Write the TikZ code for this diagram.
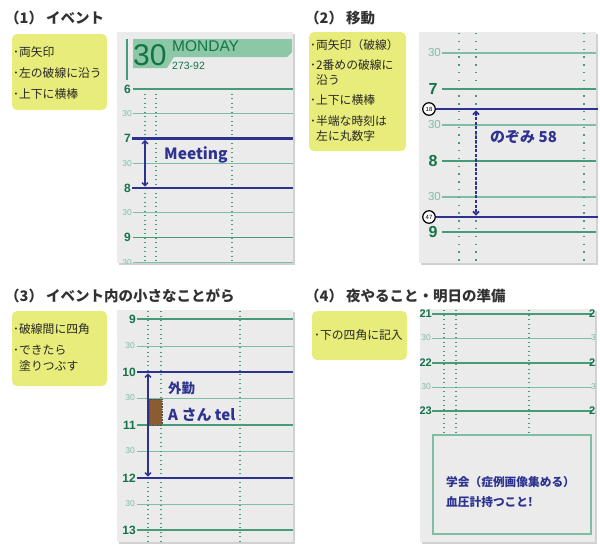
\documentclass[tikz,border=0pt]{standalone}
\usepackage{fontspec}
\setmainfont{Noto Sans CJK JP}
\newfontfamily\numfont{Liberation Sans}
\usetikzlibrary{arrows.meta,positioning}
\definecolor{memocolor}{RGB}{232,236,122}
\definecolor{pagecolor}{RGB}{235,235,235}
\definecolor{rulecolor}{RGB}{70,155,120}
\definecolor{halfcolor}{RGB}{125,190,165}
\definecolor{hourcolor}{RGB}{18,115,72}
\definecolor{bandcolor}{RGB}{140,200,166}
\definecolor{inkcolor}{RGB}{45,50,145}
\definecolor{titlecolor}{RGB}{50,50,50}
\definecolor{boxcolor}{RGB}{140,92,48}
\tikzset{
  panel title/.style={anchor=west,text=titlecolor,font=\fontsize{14.5}{16}\selectfont\bfseries},
  memo/.style={fill=memocolor,rounded corners=5pt},
  memo line/.style={anchor=west,text=black!85,font=\fontsize{11.8}{13}\selectfont},
  page/.style={fill=pagecolor},
  page shadow/.style={fill=black!18},
  hour rule/.style={draw=rulecolor,line width=1.2pt},
  half rule/.style={draw=halfcolor,line width=1pt},
  hour num/.style={text=hourcolor,font=\numfont\bfseries\fontsize{12}{12}\selectfont},
  half num/.style={text=halfcolor,font=\numfont\fontsize{8.5}{9}\selectfont},
  dots/.style={draw=rulecolor,line width=1.1pt,dash pattern=on 1.1pt off 3.4pt},
  event bar/.style={draw=inkcolor,line width=2.6pt},
  span/.style={draw=inkcolor,line width=1.4pt,
    {Straight Barb[length=3pt,width=6pt]}-{Straight Barb[length=3pt,width=6pt]},
    shorten <=1.4pt,shorten >=1.4pt},
  ink/.style={anchor=west,text=inkcolor,font=\bfseries\fontsize{15}{16}\selectfont},
  time mark/.style={circle,draw=black,line width=1.2pt,fill=white,minimum size=12.5pt,
    font=\numfont\fontsize{6}{6}\selectfont},
}

\begin{document}
\begin{tikzpicture}[x=1pt,y=-1pt,every node/.style={inner sep=0pt}]
  \useasboundingbox (0,0) rectangle (600,550);

  % (1) event
  \node[panel title] (t1) at (5,18) {（1）\hspace{3pt}イベント};
  \fill[memo] (12,34) rectangle (107,110);
  \node[memo line] (m1a) at (13,52) {･両矢印};
  \node[memo line] (m1b) at (13,73) {･左の破線に沿う};
  \node[memo line] (m1c) at (13,94) {･上下に横棒};

  \fill[page shadow] (118.5,33.5) rectangle (294.5,264.5);
  \fill[page] (117,32) rectangle (293,263);
  \begin{scope}
    \clip (117,32) rectangle (293,263);
    % header of the day
    \draw[rulecolor,line width=1.2pt] (127,39) -- (127,80);
    \fill[bandcolor] (133,39) -- (292,39) -- (292,52) -- (287,57) -- (174,57)
      -- (167,68) -- (133,68) -- cycle;
    \node[anchor=west,text=hourcolor,font=\numfont\fontsize{30}{30}\selectfont] (day) at (133,55) {30};
    \node[anchor=west,text=hourcolor,font=\numfont\fontsize{15.5}{16}\selectfont] (wday) at (172,46.5) {MONDAY};
    \node[anchor=west,text=hourcolor,font=\numfont\fontsize{10.5}{11}\selectfont] (dnum) at (172,65.5) {273-92};
    % time rules
    \foreach \y/\h in {89/6,138.5/7,188/8,237.5/9} {
      \draw[hour rule] (133,\y) -- (293,\y);
      \node[hour num,anchor=east] (a\h) at (131,\y) {\h};
    }
    \foreach \y [count=\i] in {113.75,163.25,212.75,262.25} {
      \draw[half rule] (133,\y) -- (293,\y);
      \node[half num,anchor=east] (ah\i) at (132,\y) {30};
    }
    \foreach \x in {145,156,232}
      \draw[dots] (\x,89) -- (\x,263);
  \end{scope}
  \draw[event bar] (132,138.5) -- (293,138.5);
  \draw[event bar] (132,188) -- (293,188);
  \coordinate (mtg top) at (145,138.5);
  \coordinate (mtg bot) at (145,188);
  \draw[span] (mtg top) -- (mtg bot);
  \node[ink,font=\bfseries\fontsize{15.5}{16}\selectfont] (mtg) at (164,155) {Meeting};

  % (2) travel
  \node[panel title] (t2) at (305,18) {（2）\hspace{3pt}移動};
  \fill[memo] (309,32) rectangle (406,151);
  \node[memo line] (m2a) at (310,45) {･両矢印（破線）};
  \node[memo line] (m2b) at (310,65) {･2番めの破線に};
  \node[memo line] (m2c) at (316,80) {沿う};
  \node[memo line] (m2d) at (310,100) {･上下に横棒};
  \node[memo line] (m2e) at (310,121) {･半端な時刻は};
  \node[memo line] (m2f) at (316,136) {左に丸数字};

  \fill[page shadow] (420.5,33.5) rectangle (597.5,264.5);
  \fill[page] (419,32) rectangle (596,263);
  \begin{scope}
    \clip (419,32) rectangle (596,263);
    \foreach \y/\h in {89/7,161/8,232/9} {
      \draw[hour rule,line width=1.4pt] (442,\y) -- (596,\y);
      \node[hour num,font=\numfont\bfseries\fontsize{16}{16}\selectfont] (b\h) at (433,\y) {\h};
    }
    \foreach \y [count=\i] in {53,125,197} {
      \draw[half rule,line width=1.3pt] (442,\y) -- (596,\y);
      \node[half num,anchor=east,font=\numfont\fontsize{11.5}{12}\selectfont] (bh\i) at (441,\y) {30};
    }
    \foreach \x in {459,476,584}
      \draw[dots,line width=1.4pt,dash pattern=on 1.4pt off 6.4pt] (\x,33) -- (\x,263);
  \end{scope}
  \draw[event bar] (436,109) -- (598,109);
  \draw[event bar] (436,217) -- (598,217);
  \node[time mark] (dep) at (429,109) {18};
  \node[time mark] (arr) at (429,217) {47};
  \coordinate (nz top) at (476,109);
  \coordinate (nz bot) at (476,217);
  \draw[span,line width=1.8pt,dash pattern=on 3pt off 1.6pt] (nz top) -- (nz bot);
  \node[ink] (nozomi) at (490,137) {のぞみ 58};

  % (3) small things inside an event
  \node[panel title] (t3) at (5,296) {（3）\hspace{3pt}イベント内の小さなことがら};
  \fill[memo] (12,311) rectangle (107,386);
  \node[memo line] (m3a) at (13,329) {･破線間に四角};
  \node[memo line] (m3b) at (13,350) {･できたら};
  \node[memo line] (m3c) at (19,366) {塗りつぶす};

  \fill[page shadow] (118.5,311.5) rectangle (294.5,543.5);
  \fill[page] (117,310) rectangle (293,542);
  \begin{scope}
    \clip (117,310) rectangle (293,542);
    \foreach \y/\h in {319/9,372/10,425/11,478/12,530/13} {
      \draw[hour rule] (137,\y) -- (293,\y);
      \node[hour num,anchor=east] (c\h) at (136,\y) {\h};
    }
    \foreach \y [count=\i] in {346,398,451,504} {
      \draw[half rule] (137,\y) -- (293,\y);
      \node[half num,anchor=east] (ch\i) at (135,\y) {30};
    }
    \foreach \x in {148,161,240}
      \draw[dots] (\x,311) -- (\x,542);
  \end{scope}
  \draw[event bar] (137,372) -- (293,372);
  \draw[event bar] (137,478) -- (293,478);
  \coordinate (out top) at (148,372);
  \coordinate (out bot) at (148,478);
  \draw[span] (out top) -- (out bot);
  \draw[fill=boxcolor,draw=black!70,densely dotted,line width=0.6pt] (149,399) rectangle (162,425);
  \node[ink,font=\bfseries\fontsize{13.5}{15}\selectfont] (gaikin) at (168,388) {外勤};
  \node[ink] (tel) at (168,415) {A さん tel};

  % (4) tonight / tomorrow
  \node[panel title] (t4) at (305,296) {（4）\hspace{3pt}夜やること・明日の準備};
  \fill[memo] (312,311) rectangle (407,360);
  \node[memo line] (m4a) at (314,335) {･下の四角に記入};

  \fill[page shadow] (421.5,310.5) rectangle (596.5,543.5);
  \fill[page] (420,309) rectangle (595,542);
  \begin{scope}
    \clip (420,309) rectangle (595,542);
    \foreach \y/\h in {314/21,363/22,411/23} {
      \draw[hour rule] (432,\y) -- (592,\y);
      \node[hour num,anchor=east,font=\numfont\bfseries\fontsize{11}{11}\selectfont] (d\h) at (432,\y) {\h};
      \node[hour num,anchor=west,font=\numfont\bfseries\fontsize{11}{11}\selectfont] (e\h) at (589,\y) {\h};
    }
    \foreach \y [count=\i] in {338,387} {
      \draw[half rule] (432,\y) -- (592,\y);
      \node[half num,anchor=east] (dh\i) at (431,\y) {30};
      \node[half num,anchor=west] (eh\i) at (591,\y) {30};
    }
    \foreach \x in {444,456,529}
      \draw[dots] (\x,310) -- (\x,435);
  \end{scope}
  \draw[draw=halfcolor,line width=1.4pt] (433,435) rectangle (591,534);
  \node[ink,font=\bfseries\fontsize{11.7}{13}\selectfont] (todo1) at (446,482) {学会（症例画像集める）};
  \node[ink,font=\bfseries\fontsize{11.7}{13}\selectfont] (todo2) at (446,502) {血圧計持つこと!};
\end{tikzpicture}
\end{document}
